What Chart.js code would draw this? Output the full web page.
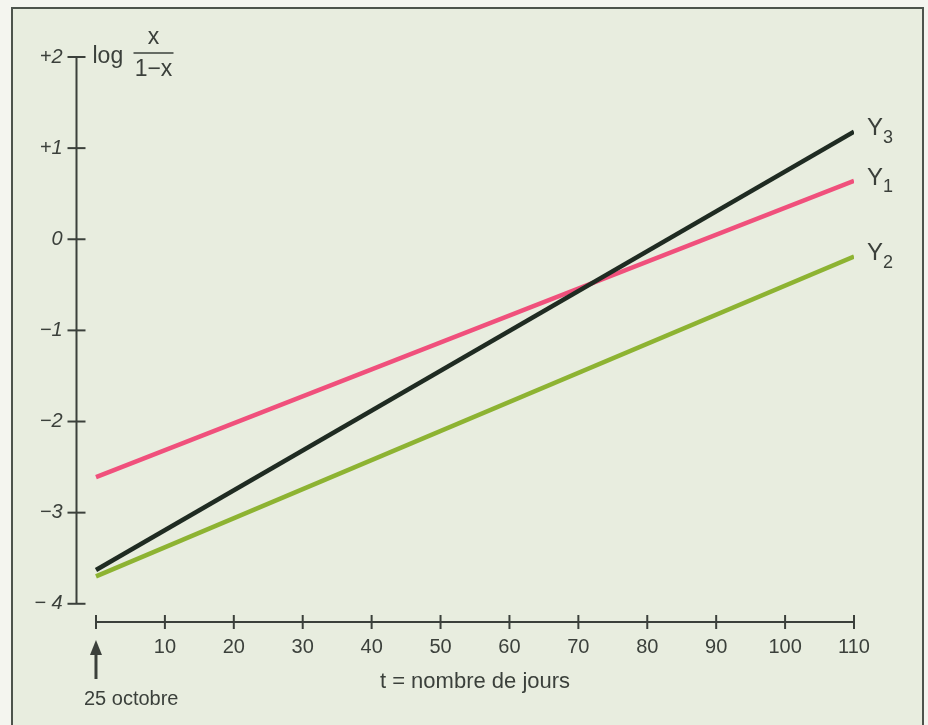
<!DOCTYPE html>
<html>
<head>
<meta charset="utf-8">
<script src="https://cdn.jsdelivr.net/npm/chart.js@4"></script>
<style>
    html, body { margin: 0; padding: 0; background: #f4f5ef; }
    #wrap { position: relative; width: 928px; height: 725px; }
</style>
</head>
<body>
<div id="wrap"><canvas id="chart" width="928" height="725"></canvas></div>
<script>
/* =========================
   DATA
========================= */
const days = [0, 110];
const y1Values = [-2.61, 0.64];
const y2Values = [-3.70, -0.19];
const y3Values = [-3.63, 1.18];

const xTicks = [0, 10, 20, 30, 40, 50, 60, 70, 80, 90, 100, 110];
const yTicks = [2, 1, 0, -1, -2, -3, -4];
const yTickLabels = ["+2", "+1", "0", "\u22121", "\u22122", "\u22123", "\u2212 4"];

const seriesNames = ["Y", "Y", "Y"];
const seriesSubs = ["3", "1", "2"];

const INK = "#3b403b";
const FONT = "'Liberation Sans', Arial, sans-serif";

function points(values) {
    return days.map((d, i) => ({ x: d, y: values[i] }));
}

/* =========================
   DECOR PLUGIN
========================= */
const decor = {
    id: "decor",
    beforeDraw(chart) {
        const ctx = chart.ctx;
        ctx.save();
        ctx.fillStyle = "#f4f5ef";
        ctx.fillRect(0, 0, chart.width, chart.height);
        ctx.fillStyle = "#e8eddf";
        ctx.fillRect(12, 8, 911, chart.height);
        ctx.strokeStyle = "#4d544c";
        ctx.lineWidth = 2;
        ctx.beginPath();
        ctx.moveTo(12, chart.height);
        ctx.lineTo(12, 8);
        ctx.lineTo(923, 8);
        ctx.lineTo(923, chart.height);
        ctx.stroke();
        ctx.restore();
    },
    afterDraw(chart) {
        const ctx = chart.ctx;
        const xs = chart.scales.x;
        const ys = chart.scales.y;
        ctx.save();
        ctx.strokeStyle = INK;
        ctx.fillStyle = INK;
        ctx.lineWidth = 2;

        // y axis
        const ax = Math.round(xs.left) + 0.5;
        ctx.beginPath();
        ctx.moveTo(ax, ys.getPixelForValue(yTicks[0]));
        ctx.lineTo(ax, ys.getPixelForValue(yTicks[yTicks.length - 1]));
        ctx.stroke();
        ctx.font = "italic 20px " + FONT;
        ctx.textAlign = "right";
        ctx.textBaseline = "middle";
        yTicks.forEach((v, i) => {
            const py = ys.getPixelForValue(v);
            ctx.beginPath();
            ctx.moveTo(ax - 9, py);
            ctx.lineTo(ax + 9, py);
            ctx.stroke();
            ctx.fillText(yTickLabels[i], ax - 14, py);
        });

        // x axis
        const ay = Math.round(ys.bottom);
        ctx.beginPath();
        ctx.moveTo(xs.getPixelForValue(xTicks[0]), ay);
        ctx.lineTo(xs.getPixelForValue(xTicks[xTicks.length - 1]), ay);
        ctx.stroke();
        ctx.font = "20px " + FONT;
        ctx.textAlign = "center";
        ctx.textBaseline = "middle";
        xTicks.forEach(v => {
            const px = xs.getPixelForValue(v);
            ctx.beginPath();
            ctx.moveTo(px, ay - 7);
            ctx.lineTo(px, ay + 7);
            ctx.stroke();
            if (v !== 0) ctx.fillText(String(v), px, ay + 25);
        });

        // x title
        ctx.font = "22px " + FONT;
        ctx.fillText("t = nombre de jours", xs.getPixelForValue(55), ay + 60);

        // start arrow
        const x0 = xs.getPixelForValue(0);
        ctx.lineWidth = 3;
        ctx.beginPath();
        ctx.moveTo(x0, ay + 57);
        ctx.lineTo(x0, ay + 30);
        ctx.stroke();
        ctx.beginPath();
        ctx.moveTo(x0, ay + 18);
        ctx.lineTo(x0 - 6, ay + 33);
        ctx.lineTo(x0 + 6, ay + 33);
        ctx.closePath();
        ctx.fill();
        ctx.font = "20px " + FONT;
        ctx.textAlign = "left";
        ctx.fillText("25 octobre", x0 - 12, ay + 77);

        // y title: log x / (1-x)
        const ty = ys.getPixelForValue(2);
        ctx.font = "23px " + FONT;
        ctx.textAlign = "left";
        ctx.fillText("log", ax + 16, ty);
        ctx.lineWidth = 1.5;
        ctx.beginPath();
        ctx.moveTo(ax + 57, ty - 4);
        ctx.lineTo(ax + 97, ty - 4);
        ctx.stroke();
        ctx.textAlign = "center";
        ctx.fillText("x", ax + 77, ty - 19);
        ctx.fillText("1\u2212x", ax + 77, ty + 13);

        // series labels
        chart.data.datasets.forEach((ds, i) => {
            const meta = chart.getDatasetMeta(i);
            const last = meta.data[meta.data.length - 1];
            const lx = last.x + 13;
            const ly = last.y - 3;
            ctx.textAlign = "left";
            ctx.font = "24px " + FONT;
            ctx.fillText(seriesNames[i], lx, ly);
            const w = ctx.measureText(seriesNames[i]).width;
            ctx.font = "18px " + FONT;
            ctx.fillText(seriesSubs[i], lx + w, ly + 9);
        });

        ctx.restore();
    }
};

/* =========================
   CHART
========================= */
new Chart(document.getElementById("chart"), {
    type: "line",
    data: {
        datasets: [
            { label: "Y3", data: points(y3Values), borderColor: "#1f2b22", borderWidth: 4.5 },
            { label: "Y1", data: points(y1Values), borderColor: "#f0507c", borderWidth: 4.5 },
            { label: "Y2", data: points(y2Values), borderColor: "#8db332", borderWidth: 4.5 }
        ]
    },
    options: {
        responsive: false,
        animation: false,
        layout: { padding: { left: 76, right: 74, top: 57, bottom: 103 } },
        elements: { point: { radius: 0 }, line: { tension: 0, borderCapStyle: "butt" } },
        plugins: { legend: { display: false }, tooltip: { enabled: false } },
        scales: {
            x: { type: "linear", min: -2.9, max: 110, display: false },
            y: { type: "linear", min: -4.2, max: 2, display: false }
        }
    },
    plugins: [decor]
});
</script>
</body>
</html>
